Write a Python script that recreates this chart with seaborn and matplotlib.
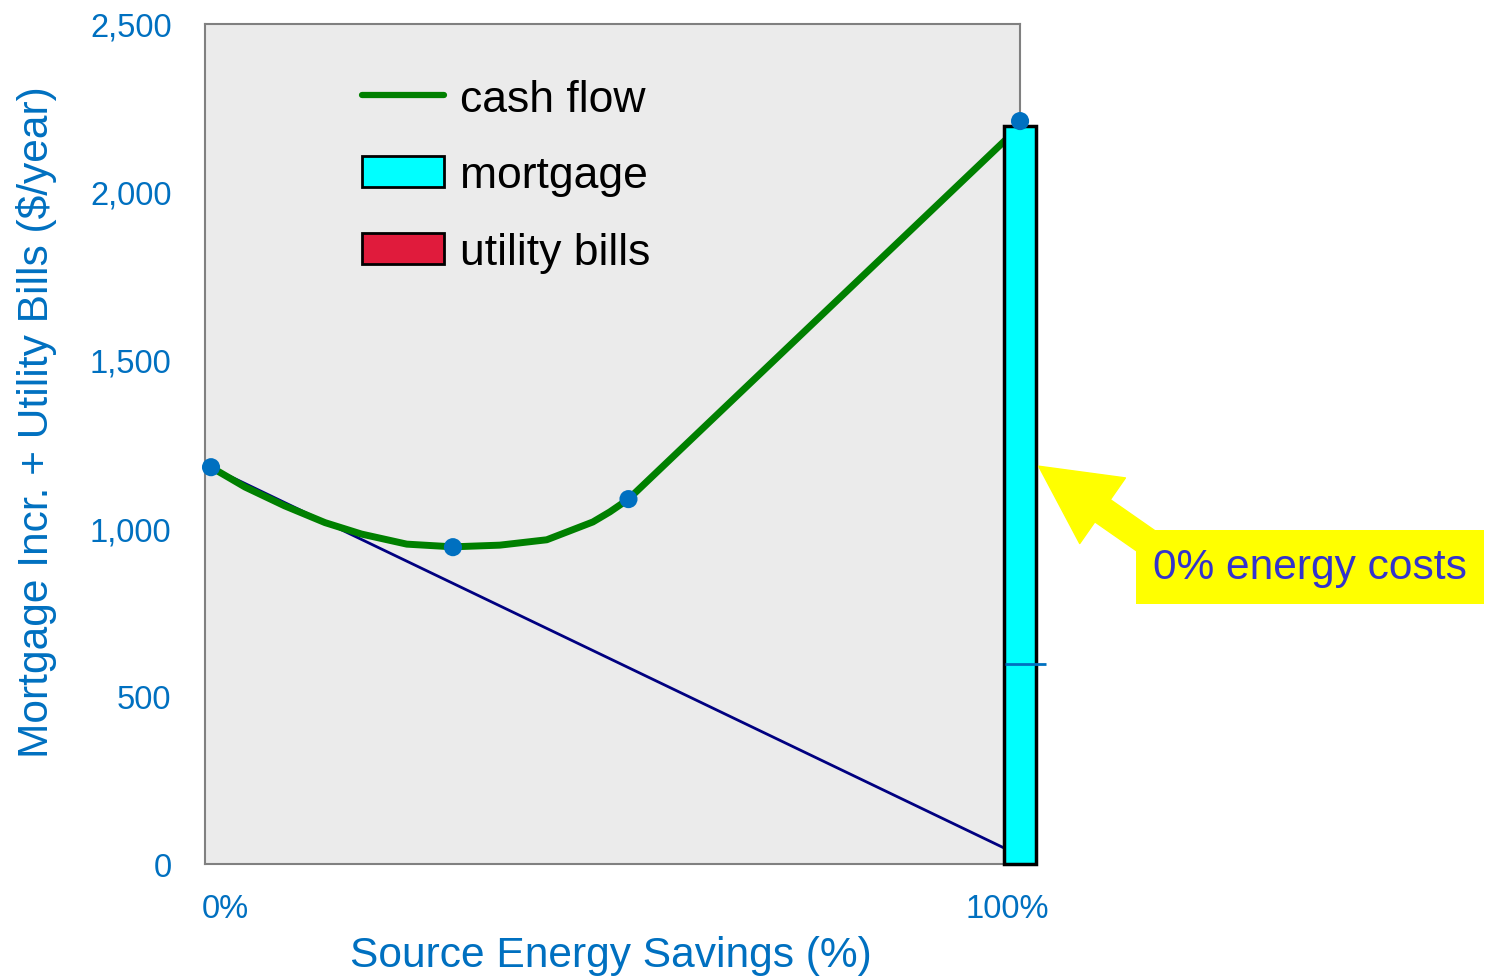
import matplotlib
matplotlib.use("Agg")
import matplotlib.pyplot as plt
import matplotlib.transforms as mtransforms
from matplotlib.patches import Patch
from matplotlib.lines import Line2D
from matplotlib.ticker import FuncFormatter
import pandas as pd
import seaborn as sns

# data
cash_x = [0, 4.2, 9.1, 14.1, 18.6, 24.2, 29.9, 35.7, 41.5, 47.2, 49.3, 51.6, 100]
cash_y = [1181, 1122, 1066, 1016, 982, 952, 944, 949, 965, 1018, 1048, 1086, 2196]
bills_x = [0, 100]
bills_y = [1181, 25]
point_x = [0, 29.9, 51.6, 100]
point_y = [1181, 943, 1086, 2211]
mortgage_x = [100]
mortgage_y = [2196]
y_ticks = [0, 500, 1000, 1500, 2000, 2500]
x_ticks = [0, 100]
x_tick_labels = ["0%", "100%"]
legend_labels = ["cash flow", "mortgage", "utility bills"]

blue = "#0070C0"

sns.set_theme(style="white")
plt.rcParams["font.family"] = ["Liberation Sans", "DejaVu Sans"]

fig = plt.figure(figsize=(14.97, 9.79), dpi=100)
ax = fig.add_axes([0.1369, 0.1164, 0.5445, 0.8581])
ax.set_facecolor("#EBEBEB")

cash = pd.DataFrame({"x": cash_x, "y": cash_y})
bills = pd.DataFrame({"x": bills_x, "y": bills_y})
pts = pd.DataFrame({"x": point_x, "y": point_y})

sns.lineplot(data=bills, x="x", y="y", color="#000080", lw=2, ax=ax, zorder=2)
sns.lineplot(data=cash, x="x", y="y", color="#008000", lw=5, ax=ax, zorder=3)
ax.bar(mortgage_x, mortgage_y, width=3.95, color="#00FFFF", edgecolor="black",
       lw=2.5, clip_on=False, zorder=4)
ax.hlines(595, 98.2, 103.2, color=blue, lw=2, clip_on=False, zorder=5)
sns.scatterplot(data=pts, x="x", y="y", color=blue, s=170, edgecolor="none",
                ax=ax, zorder=6, clip_on=False)

ax.set_xlim(-0.75, 100)
ax.set_ylim(0, 2500)
ax.set_yticks(y_ticks)
ax.yaxis.set_major_formatter(FuncFormatter(lambda v, p: f"{int(v):,}"))
ax.set_xticks(x_ticks)
ax.set_xticklabels(x_tick_labels)
ax.tick_params(axis="both", length=0, labelsize=23.5, labelcolor=blue)
ax.tick_params(axis="y", pad=24)
ax.tick_params(axis="x", pad=21)
for lab, dx in zip(ax.get_xticklabels(), [0.14, -0.13]):
    lab.set_transform(lab.get_transform() +
                      mtransforms.ScaledTranslation(dx, 0, fig.dpi_scale_trans))

ax.set_xlabel("Source Energy Savings (%)", fontsize=30.6, color=blue)
ax.set_ylabel("Mortgage Incr. + Utility Bills ($/year)", fontsize=30.6, color=blue)
ax.xaxis.set_label_coords(0.498, -0.085)
ax.yaxis.set_label_coords(-0.182, 0.527)

for s in ax.spines.values():
    s.set_color("#808080")
    s.set_linewidth(1.5)

handles = [
    Line2D([0], [0], color="#008000", lw=4.5),
    Patch(facecolor="#00FFFF", edgecolor="black", lw=2),
    Patch(facecolor="#E01B3C", edgecolor="black", lw=2),
]
ax.legend(handles, legend_labels, loc="upper left", bbox_to_anchor=(0.171, 0.956),
          frameon=False, fontsize=32, labelcolor="black", handlelength=1.85,
          handleheight=0.7, handletextpad=0.35, labelspacing=0.8, borderaxespad=0)

# yellow callout
ax.annotate("", xy=(102.3, 1184), xytext=(117.5, 929), annotation_clip=False,
            arrowprops=dict(arrowstyle="simple,head_length=1.87,head_width=1.92,tail_width=0.65",
                            color="#FFFF00", mutation_scale=30, shrinkA=0, shrinkB=0),
            zorder=7)
ax.text(135.8, 884, "0% energy costs", fontsize=30.6, color="#3333CC",
        ha="center", va="center", clip_on=False, zorder=8,
        bbox=dict(boxstyle="square,pad=0.4", facecolor="#FFFF00", edgecolor="none"))

fig.savefig("out.png", dpi=100)
